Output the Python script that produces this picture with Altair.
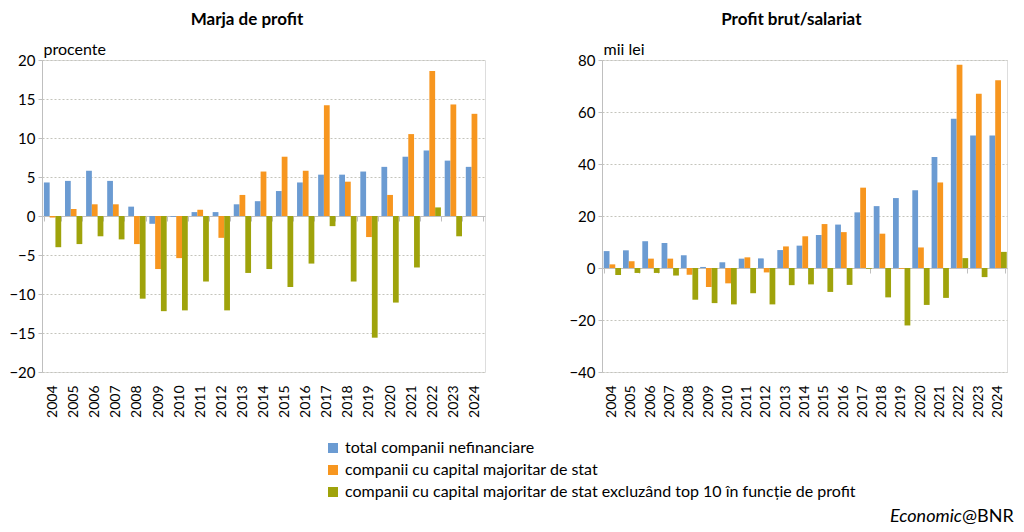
import altair as alt
import pandas as pd

years = [str(y) for y in range(2004, 2025)]
series = [
    "total companii nefinanciare",
    "companii cu capital majoritar de stat",
    "companii cu capital majoritar de stat excluzând top 10 în funcție de profit",
]
colors = ["#6b9bd2", "#f7961f", "#9fa30b"]

marja_total = [4.3, 4.5, 5.8, 4.5, 1.2, -1.0, -0.1, 0.5, 0.5, 1.5, 1.9, 3.2, 4.3, 5.3, 5.3, 5.7, 6.3, 7.6, 8.4, 7.1, 6.3]
marja_stat = [-0.2, 0.9, 1.5, 1.5, -3.6, -6.8, -5.4, 0.8, -2.8, 2.7, 5.7, 7.6, 5.8, 14.2, 4.4, -2.7, 2.7, 10.5, 18.6, 14.3, 13.1]
marja_excl = [-4.0, -3.6, -2.6, -3.0, -10.6, -12.2, -12.1, -8.4, -12.1, -7.3, -6.8, -9.1, -6.1, -1.3, -8.4, -15.6, -11.1, -6.6, 1.1, -2.6, None]

profit_total = [6.5, 6.8, 10.3, 9.6, 4.9, 0.4, 2.2, 3.6, 3.7, 6.9, 8.6, 12.7, 16.7, 21.4, 23.8, 26.9, 29.9, 42.7, 57.4, 51.0, 51.0]
profit_stat = [1.4, 2.6, 3.6, 3.6, -2.6, -7.3, -5.9, 4.1, -1.7, 8.3, 12.2, 16.9, 13.8, 30.9, 13.2, -0.3, 7.9, 32.9, 78.2, 67.0, 72.2]
profit_excl = [-2.7, -1.9, -1.9, -2.9, -12.2, -13.5, -14.0, -9.7, -14.0, -6.6, -6.3, -9.2, -6.5, -0.3, -11.3, -22.1, -14.2, -11.5, 3.8, -3.5, 6.2]

FONT = "Lato"


def make_df(a, b, c):
    rows = []
    for s, vals in zip(series, [a, b, c]):
        for y, v in zip(years, vals):
            if v is not None:
                rows.append({"year": y, "series": s, "value": v})
    return pd.DataFrame(rows)


def panel(df, title, unit, ymin, ymax, step, width, height, extra=None):
    zero_px = height * ymax / (ymax - ymin)
    base = alt.Chart(df)
    bars = base.mark_bar().encode(
        x=alt.X(
            "year:N",
            sort=years,
            title=None,
            scale=alt.Scale(paddingInner=0.18, paddingOuter=0.09),
            axis=alt.Axis(
                labelAngle=270,
                labelFontSize=14,
                labelColor="#000000",
                labelFont=FONT,
                domainColor="#bfbfbf",
                tickColor="#bfbfbf",
                tickBand="extent",
                tickSize=5,
                offset=-(height - zero_px),
                labelPadding=(height - zero_px) + 8,
                grid=False,
            ),
        ),
        xOffset=alt.XOffset("series:N", sort=series),
        y=alt.Y(
            "value:Q",
            scale=alt.Scale(domain=[ymin, ymax], nice=False),
            axis=alt.Axis(
                values=list(range(ymin, ymax + 1, step)),
                title=unit,
                titleAngle=0,
                titleAlign="left",
                titleBaseline="bottom",
                titleX=1,
                titleY=-3,
                titleFont=FONT,
                titleFontSize=16,
                titleFontWeight="normal",
                titleColor="#000000",
                labelFont=FONT,
                labelFontSize=15,
                labelColor="#000000",
                labelPadding=3,
                domainColor="#bfbfbf",
                tickColor="#bfbfbf",
                tickSize=4,
                gridColor="#c4c4bc",
                gridDash=[2, 2],
            ),
        ),
        color=alt.Color(
            "series:N",
            sort=series,
            scale=alt.Scale(domain=series, range=colors),
            legend=alt.Legend(
                title=None,
                orient="none",
                legendX=283,
                legendY=380,
                direction="vertical",
                symbolType="square",
                symbolSize=100,
                symbolStrokeWidth=0,
                labelFont=FONT,
                labelFontSize=16,
                labelColor="#000000",
                rowPadding=6,
                labelLimit=800,
            ),
        ),
    )
    layers = [bars]
    if extra is not None:
        layers += extra
    return alt.layer(*layers).properties(
        width=width,
        height=height,
        title=alt.TitleParams(
            title, font=FONT, fontSize=17, fontWeight="bold", color="#000000",
            offset=12, frame="bounds", anchor="middle"
        ),
    )


left = panel(make_df(marja_total, marja_stat, marja_excl), "Marja de profit", "procente",
             -20, 20, 5, 443, 312)

foot1 = alt.Chart(pd.DataFrame({"t": ["Economic"]})).mark_text(
    font=FONT, fontSize=18, fontStyle="italic", align="right", baseline="middle", color="#000000"
).encode(x=alt.value(360), y=alt.value(457), text="t:N")
foot2 = alt.Chart(pd.DataFrame({"t": ["@BNR"]})).mark_text(
    font=FONT, fontSize=18, align="left", baseline="middle", color="#000000"
).encode(x=alt.value(360), y=alt.value(457), text="t:N")

right = panel(make_df(profit_total, profit_stat, profit_excl), "Profit brut/salariat", "mii lei",
              -40, 80, 20, 405, 312, extra=[foot1, foot2])

chart = alt.hconcat(left, right, spacing=82).properties(
    padding={"left": 0, "top": 2, "right": 0, "bottom": 0}
).configure_view(stroke=None).configure(background="#ffffff")

chart.save("out.html", embed_options={"renderer": "svg", "actions": False})
